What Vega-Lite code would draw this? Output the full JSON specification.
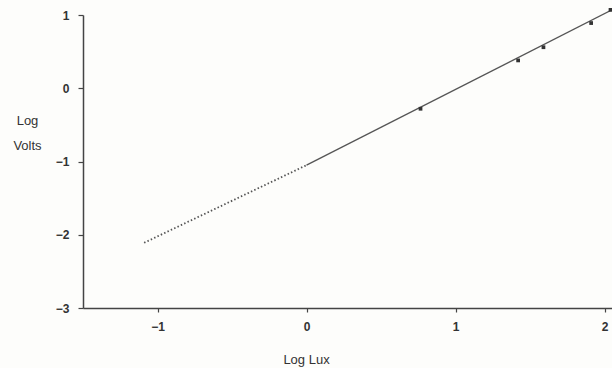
{
  "$schema": "https://vega.github.io/schema/vega-lite/v6.json",
  "width": 529,
  "height": 293,
  "autosize": "none",
  "padding": {"left": 83, "top": 15, "right": 0, "bottom": 60},
  "background": "#fdfdfb",
  "config": {
    "view": {"stroke": null},
    "font": "Liberation Sans"
  },
  "datasets": {
    "fit": [
      {"x": -1.09, "y": -2.11, "seg": "dotted"},
      {"x": 0, "y": -1.05, "seg": "dotted"},
      {"x": 0, "y": -1.05, "seg": "solid"},
      {"x": 2.05, "y": 1.07, "seg": "solid"}
    ],
    "obs": [
      {"x": 0.765, "y": -0.28},
      {"x": 1.42, "y": 0.38},
      {"x": 1.59, "y": 0.56},
      {"x": 1.91, "y": 0.89},
      {"x": 2.04, "y": 1.07}
    ]
  },
  "layer": [
    {
      "data": {"name": "fit"},
      "transform": [{"filter": "datum.seg == 'solid'"}],
      "mark": {"type": "line", "color": "#555", "strokeWidth": 1.3},
      "encoding": {
        "x": {
          "field": "x", "type": "quantitative",
          "scale": {"domain": [-1.5, 2.05], "nice": false, "zero": false},
          "axis": {
            "values": [-1, 0, 1, 2],
            "format": "d",
            "grid": false,
            "title": "Log Lux",
            "titleFontSize": 13,
            "titleFontWeight": "normal",
            "titleColor": "#333",
            "titleX": 223,
            "titleY": 55,
            "titleAlign": "center",
            "titleBaseline": "alphabetic",
            "domainColor": "#444",
            "domainWidth": 1.5,
            "tickColor": "#444",
            "tickSize": 4,
            "tickWidth": 1.2,
            "labelFontSize": 12,
            "labelFontWeight": "bold",
            "labelColor": "#333",
            "labelPadding": 9,
            "labelFlush": false
          }
        },
        "y": {
          "field": "y", "type": "quantitative",
          "scale": {"domain": [-3, 1], "nice": false, "zero": false},
          "axis": {
            "values": [-3, -2, -1, 0, 1],
            "format": "d",
            "grid": false,
            "title": ["Log", "Volts"],
            "titleAngle": 0,
            "titleFontSize": 13,
            "titleFontWeight": "normal",
            "titleColor": "#333",
            "titleAlign": "center",
            "titleBaseline": "alphabetic",
            "titleLineHeight": 25,
            "titleX": -56,
            "titleY": 109,
            "domainColor": "#444",
            "domainWidth": 1.5,
            "tickColor": "#444",
            "tickSize": 5,
            "tickWidth": 1.2,
            "labelFontSize": 12,
            "labelFontWeight": "bold",
            "labelColor": "#333",
            "labelPadding": 9,
            "labelFlush": false
          }
        }
      }
    },
    {
      "data": {"name": "fit"},
      "transform": [{"filter": "datum.seg == 'dotted'"}],
      "mark": {"type": "line", "color": "#555", "strokeWidth": 1.8, "strokeDash": [1.5, 2.2]},
      "encoding": {
        "x": {"field": "x", "type": "quantitative"},
        "y": {"field": "y", "type": "quantitative"}
      }
    },
    {
      "data": {"name": "obs"},
      "mark": {"type": "square", "color": "#333", "opacity": 1, "filled": true, "size": 14},
      "encoding": {
        "x": {"field": "x", "type": "quantitative"},
        "y": {"field": "y", "type": "quantitative"}
      }
    }
  ]
}
